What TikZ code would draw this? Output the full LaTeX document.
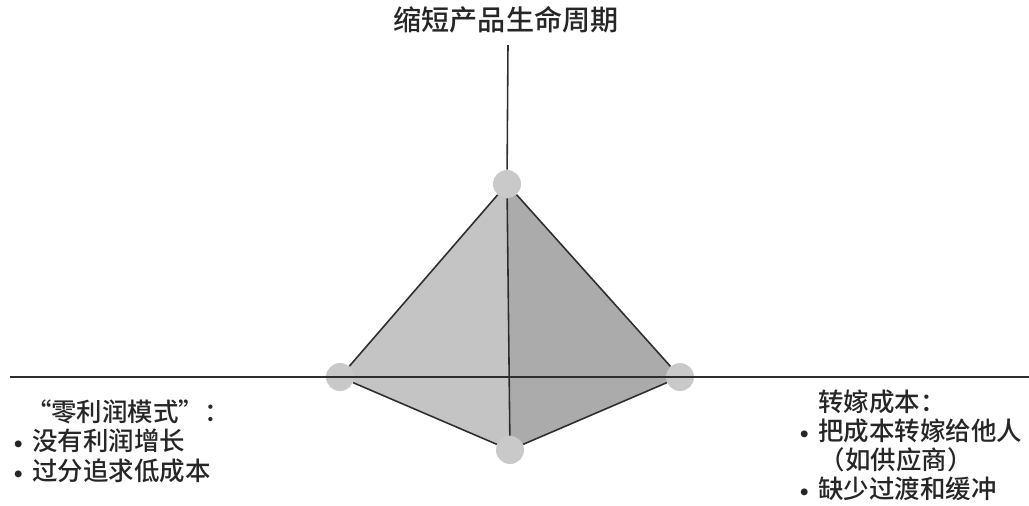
\documentclass[tikz,border=0pt]{standalone}
\usepackage{fontspec}
\newfontfamily\cjk{Noto Sans CJK SC Medium}
\usetikzlibrary{positioning}
\definecolor{edge}{HTML}{2E2E2E}
\definecolor{faceL}{HTML}{C4C4C4}
\definecolor{faceR}{HTML}{ABABAB}
\definecolor{knob}{HTML}{C9C9C9}
\newcommand\dotitem{\makebox[1.1em][c]{\normalfont\textbullet}}
\tikzset{
  axis/.style={draw=edge,line width=0.9pt},
  rib/.style={draw=edge,line width=0.9pt,line join=round},
  face/.style={draw=none},
  vertex/.style={circle,fill=knob,minimum size=0.56cm,inner sep=0pt},
  caption/.style={font=\cjk\fontsize{14.5}{17}\selectfont,align=left,
    inner sep=0pt,text=black!85}
}
\begin{document}
\begin{tikzpicture}[x=0.02cm,y=-0.02cm]
  \useasboundingbox (0,0) rectangle (1029,505);
  \coordinate (t) at (507,184);
  \coordinate (l) at (340,377);
  \coordinate (r) at (680,377);
  \coordinate (b) at (510,450);
  \coordinate (n) at (508,45);
  \coordinate (w) at (10,377);
  \coordinate (e) at (1029,377);
  \fill[face,faceL] (t)--(l)--(b)--cycle;
  \fill[face,faceR] (t)--(r)--(b)--cycle;
  \node[vertex] (tv) at (t) {};
  \node[vertex] (lv) at (l) {};
  \node[vertex] (rv) at (r) {};
  \node[vertex] (bv) at (b) {};
  \draw[rib] (tv)--(lv);
  \draw[rib] (lv)--(bv);
  \draw[rib] (bv)--(rv);
  \draw[rib] (rv)--(tv);
  \draw[axis] (n)--(tv);
  \draw[axis] (tv)--(bv);
  \draw[axis] (w)--(e);
  \node[caption,font=\cjk\fontsize{16}{18}\selectfont] (head) at (506,20) {缩短产品生命周期};
  \node[caption,anchor=north west] (zero) at (4,399) {\hspace*{0.85em}“零利润模式”：\\\dotitem 没有利润增长\\\dotitem 过分追求低成本};
  \node[caption,anchor=north west,font=\cjk\fontsize{14.5}{16.4}\selectfont] (shift) at (790,390) {\hspace*{1.1em}转嫁成本：\\\dotitem 把成本转嫁给他人\\\hspace*{1.15em}（如供应商）\\\dotitem 缺少过渡和缓冲};
\end{tikzpicture}
\end{document}
